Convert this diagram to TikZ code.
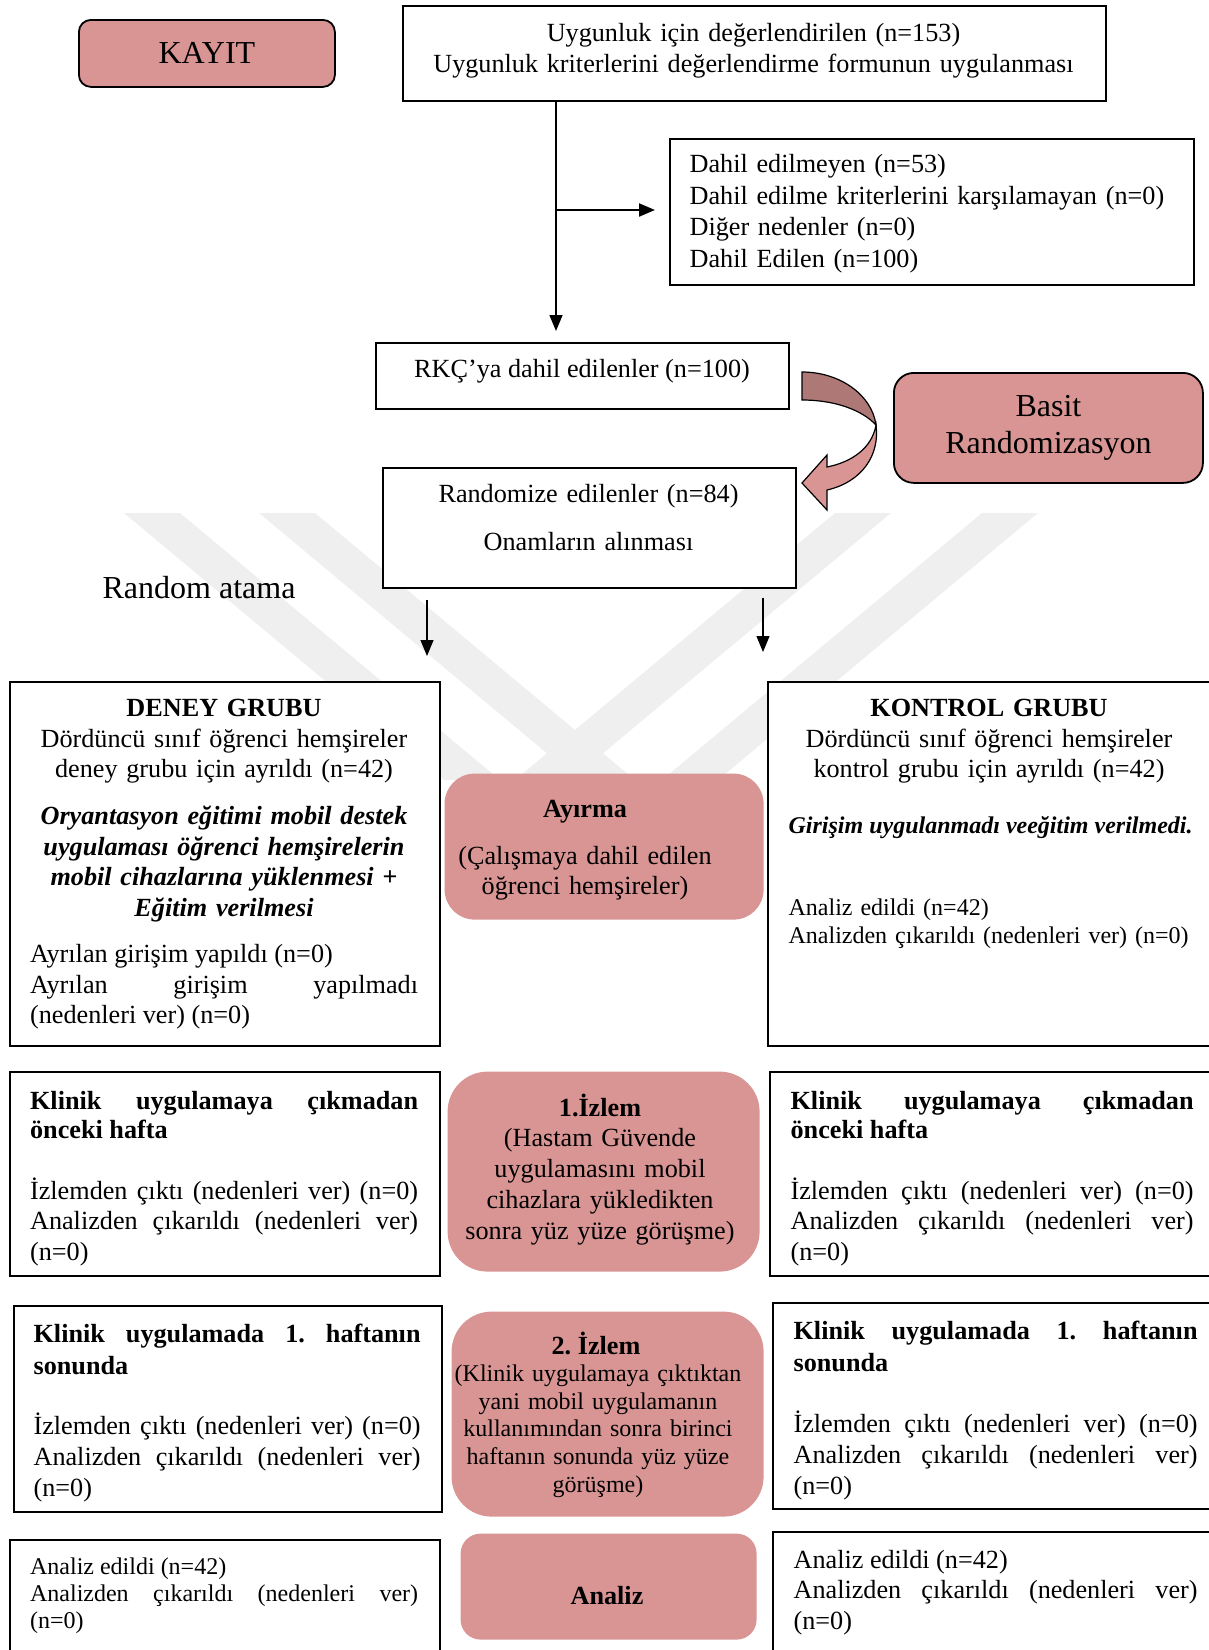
\documentclass[tikz,border=0pt]{standalone}
\usepackage{fontspec}
\setmainfont{Liberation Serif}
\usetikzlibrary{arrows.meta,positioning}

\definecolor{rose}{HTML}{D99594}
\definecolor{roseshade}{HTML}{AE7876}
\definecolor{wmark}{HTML}{EFEFEF}

\newcommand{\fs}[2]{\fontsize{#1}{#2}\selectfont\frenchspacing\hyphenpenalty=10000\relax}

\tikzset{
  box/.style={draw,fill=white,line width=0.9pt,anchor=north west,inner sep=0pt},
  pinkbox/.style={fill=rose,anchor=north west,inner sep=0pt,rounded corners=#1},
  txt/.style={inner sep=0pt,font=\fs{13.1}{15.3}},
}

\begin{document}
\begin{tikzpicture}[x=0.5pt,y=-0.5pt,>={Triangle[length=8pt,width=6.5pt]},line width=0.6pt]
\useasboundingbox (0,0) rectangle (1209,1650);
\clip (0,0) rectangle (1209,1650);

% filigran
\foreach \xa/\dx in {124/320,259/320,835/-320,982/-320}
  \fill[wmark] (\xa,513) -- ++(56,0) -- ++(\dx,267) -- ++(-56,0) -- cycle;

% kutular
\node[box,fill=rose,rounded corners=6pt,minimum width=128pt,minimum height=33.5pt,font=\fs{16}{19}] (kayit) at (78,19) {KAYIT};
\node[box,minimum width=351.5pt,minimum height=47.5pt] (uygun) at (402,5) {};
\node[box,minimum width=262pt,minimum height=73pt] (dahil) at (669,138) {};
\node[box,minimum width=206.5pt,minimum height=33pt] (rkc) at (375,342) {};
\node[box,fill=rose,rounded corners=10pt,minimum width=154.5pt,minimum height=55pt,align=center,font=\fs{16}{18.5}] (basit) at (893,372) {Basit\\Randomizasyon};
\node[box,minimum width=206.5pt,minimum height=60pt] (rand) at (382,467) {};
\node[box,minimum width=215pt,minimum height=182pt] (deney) at (9,681) {};
\node[box,minimum width=222.5pt,minimum height=182pt] (kontrol) at (767,681) {};
\node[pinkbox=15pt,minimum width=159.5pt,minimum height=73pt] (ayirma) at (444,773) {};
\node[box,minimum width=215pt,minimum height=102pt] (dk1) at (9,1071) {};
\node[pinkbox=20pt,minimum width=156pt,minimum height=100pt] (izlem1) at (447,1071) {};
\node[box,minimum width=221.5pt,minimum height=102pt] (kk1) at (769,1071) {};
\node[box,minimum width=214pt,minimum height=103pt] (dk2) at (13,1305) {};
\node[pinkbox=20pt,minimum width=156pt,minimum height=102.5pt] (izlem2) at (451,1311) {};
\node[box,minimum width=220pt,minimum height=103pt] (kk2) at (772,1302) {};
\node[box,minimum width=215pt,minimum height=62pt] (dan) at (9,1539) {};
\node[pinkbox=10pt,minimum width=148pt,minimum height=53pt] (analiz) at (460,1533) {};
\node[box,minimum width=220pt,minimum height=66pt] (kan) at (772,1531) {};

% metinler
\node[txt,anchor=base,text width=345pt,align=center,font=\fs{13.1}{15.7}] (uyguntxt) at (753.5,41) {Uygunluk için değerlendirilen (n=153)\\Uygunluk kriterlerini değerlendirme formunun uygulanması};
\node[txt,anchor=base west,text width=250pt,align=left,font=\fs{13.1}{15.8}] (dahiltxt) at (689,172.5) {Dahil edilmeyen (n=53)\\Dahil edilme kriterlerini karşılamayan (n=0)\\Diğer nedenler (n=0)\\Dahil Edilen (n=100)};
\node[txt,anchor=base] (rkctxt) at (582,377.5) {RKÇ’ya dahil edilenler (n=100)};
\node[txt,anchor=base,text width=200pt,align=center] (randtxt) at (588.5,502.5) {Randomize edilenler (n=84)\\[8.7pt]Onamların alınması};
\node[txt,anchor=base west,font=\fs{16}{19}] (atama) at (102,598) {Random atama};

\node[txt,anchor=base,text width=200pt,align=center] (dghead) at (224,716.5) {\textbf{DENEY GRUBU}\\Dördüncü sınıf öğrenci hemşireler\\deney grubu için ayrıldı (n=42)};
\node[txt,anchor=base,text width=200pt,align=center,font=\fs{13.1}{15.3}\bfseries\itshape] (dgint) at (224,824.5) {Oryantasyon eğitimi mobil destek\\uygulaması öğrenci hemşirelerin\\mobil cihazlarına yüklenmesi +\\Eğitim verilmesi};
\node[txt,anchor=base west,text width=194pt,align=justify] (dgout) at (29.5,962.5) {Ayrılan girişim yapıldı (n=0)\\Ayrılan girişim yapılmadı\linebreak (nedenleri ver) (n=0)};

\node[txt,anchor=base,text width=210pt,align=center] (kohead) at (989,716.5) {\textbf{KONTROL GRUBU}\\Dördüncü sınıf öğrenci hemşireler\\kontrol grubu için ayrıldı (n=42)};
\node[txt,anchor=base west,font=\fs{12}{13.8}\bfseries\itshape] (koint) at (788,833.5) {Girişim uygulanmadı veeğitim verilmedi.};
\node[txt,anchor=base west,text width=205pt,align=left,font=\fs{12}{14}] (koout) at (788,915.5) {Analiz edildi (n=42)\\Analizden çıkarıldı (nedenleri ver) (n=0)};

\node[txt,anchor=base,text width=150pt,align=center] (ayirmatxt) at (585,817.5) {\textbf{Ayırma}\\[8pt](Çalışmaya dahil edilen\\öğrenci hemşireler)};

\node[txt,anchor=base west,text width=194pt,align=justify,font=\fs{13.1}{14.5}\bfseries] (dk1head) at (29.5,1109) {Klinik uygulamaya çıkmadan\linebreak önceki hafta};
\node[txt,anchor=base west,text width=194pt,align=justify] (dk1txt) at (29.5,1199) {İzlemden çıktı (nedenleri ver) (n=0)\linebreak Analizden çıkarıldı (nedenleri ver)\linebreak (n=0)};
\node[txt,anchor=base,text width=150pt,align=center,font=\fs{13.1}{15.4}] (izlem1txt) at (600,1116) {\textbf{1.İzlem}\\(Hastam Güvende\\uygulamasını mobil\\cihazlara yükledikten\\sonra yüz yüze görüşme)};
\node[txt,anchor=base west,text width=201.5pt,align=justify,font=\fs{13.1}{14.5}\bfseries] (kk1head) at (790,1109) {Klinik uygulamaya çıkmadan\linebreak önceki hafta};
\node[txt,anchor=base west,text width=201.5pt,align=justify] (kk1txt) at (790,1199) {İzlemden çıktı (nedenleri ver) (n=0)\linebreak Analizden çıkarıldı (nedenleri ver)\linebreak (n=0)};

\node[txt,anchor=base west,text width=193.5pt,align=justify,font=\fs{13.1}{16}\bfseries] (dk2head) at (33,1342) {Klinik uygulamada 1. haftanın\linebreak sonunda};
\node[txt,anchor=base west,text width=193.5pt,align=justify,font=\fs{13.1}{15.5}] (dk2txt) at (33,1434) {İzlemden çıktı (nedenleri ver) (n=0)\linebreak Analizden çıkarıldı (nedenleri ver)\linebreak (n=0)};
\node[txt,anchor=base,font=\fs{13.1}{15}\bfseries] (izlem2head) at (596,1354.5) {2. İzlem};
\node[txt,anchor=base,text width=150pt,align=center,font=\fs{12}{13.85}] (izlem2txt) at (598,1381.5) {(Klinik uygulamaya çıktıktan\\yani mobil uygulamanın\\kullanımından sonra birinci\\haftanın sonunda yüz yüze\\görüşme)};
\node[txt,anchor=base west,text width=202pt,align=justify,font=\fs{13.1}{16}\bfseries] (kk2head) at (793,1339) {Klinik uygulamada 1. haftanın\linebreak sonunda};
\node[txt,anchor=base west,text width=202pt,align=justify,font=\fs{13.1}{15.5}] (kk2txt) at (793,1432) {İzlemden çıktı (nedenleri ver) (n=0)\linebreak Analizden çıkarıldı (nedenleri ver)\linebreak (n=0)};

\node[txt,anchor=base west,text width=194pt,align=justify,font=\fs{12}{13.5}] (dantxt) at (29.5,1574.5) {Analiz edildi (n=42)\\Analizden çıkarıldı (nedenleri ver)\linebreak (n=0)};
\node[txt,anchor=base,font=\fs{13.1}{15}\bfseries] (analiztxt) at (607,1604) {Analiz};
\node[txt,anchor=base west,text width=202pt,align=justify] (kantxt) at (793,1568) {Analiz edildi (n=42)\\Analizden çıkarıldı (nedenleri ver)\linebreak (n=0)};

% oklar
\coordinate (split) at (556,210);
\coordinate (la) at (427,0);
\coordinate (ra) at (763,0);
\draw[->,line width=0.75pt,shorten >=5.5pt] (uygun.south -| split) -- (rkc.north -| split);
\draw[->,line width=1pt,shorten >=7pt] (split) -- (split -| dahil.west);
\draw[->,shorten <=5.5pt,shorten >=12.5pt] (rand.south -| la) -- (deney.north -| la);
\draw[->,shorten <=4.5pt,shorten >=14.5pt] (rand.south -| ra) -- (kontrol.north -| ra);

% kivrik ok
\filldraw[fill=roseshade,line width=0.6pt] (802,372) .. controls (840,372) and (872,395) .. (876,425)
  .. controls (862,410) and (835,400) .. (802,400) -- cycle;
\filldraw[fill=rose,line width=0.6pt] (876,425) .. controls (880,455) and (862,482) .. (827,490)
  -- (827,510) -- (802,483) -- (827,455) -- (827,467)
  .. controls (852,462) and (872,448) .. (876,425) -- cycle;
\end{tikzpicture}
\end{document}
